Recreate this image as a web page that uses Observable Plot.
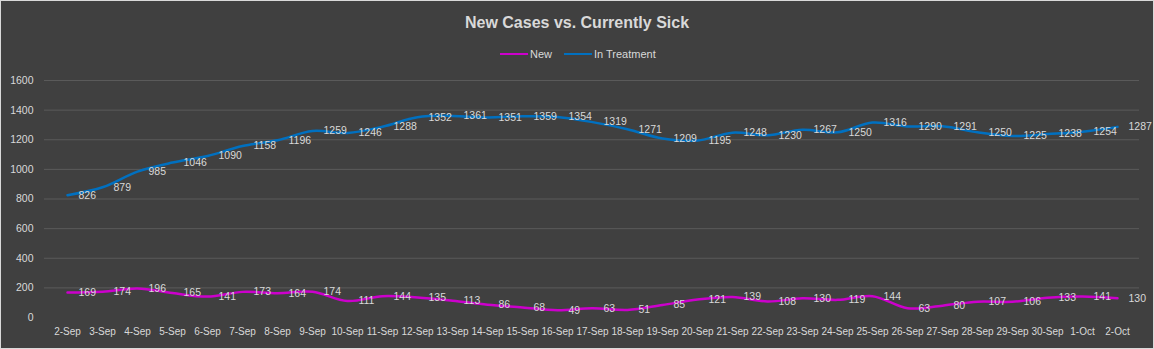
<!DOCTYPE html>
<html>
<head>
<meta charset="utf-8">
<script src="https://cdn.jsdelivr.net/npm/d3@7"></script>
<script src="https://cdn.jsdelivr.net/npm/@observablehq/plot@0.6"></script>
<style>
html, body { margin: 0; padding: 0; background: #404040; }
#wrap { position: relative; width: 1154px; height: 349px; background: #404040; overflow: hidden;
        font-family: "Liberation Sans", Arial, sans-serif; }
#frame { position: absolute; left: 0; top: 0; width: 1154px; height: 349px; box-sizing: border-box;
         border: 1px solid #d9d9d9; pointer-events: none; }
#title { position: absolute; left: 0; width: 1154px; top: 14px; text-align: center; font-weight: bold;
         font-size: 16px; line-height: 18px; color: #d9d9d9; }
#legend { position: absolute; left: 0; width: 1154px; top: 47px; height: 14px; font-size: 11px; color: #d9d9d9; }
.li { position: absolute; top: 0; line-height: 14px; white-space: nowrap; }
.sw { display: inline-block; width: 28px; height: 2.5px; vertical-align: middle; margin-right: 2px; position: relative; top: -1px; }
#chart { position: absolute; left: 0; top: 65px; }
</style>
</head>
<body>
<div id="wrap">
  <div id="title">New Cases vs. Currently Sick</div>
  <div id="legend"></div>
  <div id="chart"></div>
  <div id="frame"></div>
</div>
<script>
const dates = ["2-Sep","3-Sep","4-Sep","5-Sep","6-Sep","7-Sep","8-Sep","9-Sep","10-Sep","11-Sep","12-Sep","13-Sep","14-Sep","15-Sep","16-Sep","17-Sep","18-Sep","19-Sep","20-Sep","21-Sep","22-Sep","23-Sep","24-Sep","25-Sep","26-Sep","27-Sep","28-Sep","29-Sep","30-Sep","1-Oct","2-Oct"];
const newCases = [169,174,196,165,141,173,164,174,111,144,135,113,86,68,49,63,51,85,121,139,108,130,119,144,63,80,107,106,133,141,130];
const inTreatment = [826,879,985,1046,1090,1158,1196,1259,1246,1288,1352,1361,1351,1359,1354,1319,1271,1209,1195,1248,1230,1267,1250,1316,1290,1291,1250,1225,1238,1254,1287];
const seriesNames = ["New","In Treatment"];
const seriesColors = ["#cc00cc","#0070c0"];
const yTicks = [0,200,400,600,800,1000,1200,1400,1600];

const rows = [];
dates.forEach((d,i) => {
  rows.push({date: d, value: newCases[i], series: "New"});
  rows.push({date: d, value: inTreatment[i], series: "In Treatment"});
});

// legend
const legend = document.getElementById("legend");
const legendX = [500, 564];
seriesNames.forEach((s,i) => {
  const el = document.createElement("div");
  el.className = "li";
  el.style.left = legendX[i] + "px";
  el.innerHTML = `<span class="sw" style="background:${seriesColors[i]}"></span>${s}`;
  legend.appendChild(el);
});

const chart = Plot.plot({
  width: 1154,
  height: 284,
  marginLeft: 44,
  marginRight: 15,
  marginTop: 15,
  marginBottom: 32,
  style: { background: "transparent", color: "#d9d9d9", fontFamily: "'Liberation Sans', Arial, sans-serif", fontSize: "11px" },
  x: { type: "point", domain: dates, padding: 0.5, label: null },
  y: { domain: [0, 1600], label: null },
  color: { domain: seriesNames, range: seriesColors },
  marks: [
    Plot.gridY(yTicks.filter(t => t > 0), { stroke: "#5a5a5a", strokeOpacity: 1, strokeWidth: 1 }),
    Plot.axisY(yTicks, { tickSize: 0, tickPadding: 11, fill: "#d9d9d9", fontSize: 10.5, tickFormat: d => String(d) }),
    Plot.axisX({ tickSize: 0, tickPadding: 10, fill: "#d9d9d9", fontSize: 10 }),
    Plot.line(rows, { x: "date", y: "value", z: "series", stroke: "series", strokeWidth: 2.5, curve: "catmull-rom" }),
    Plot.text(rows, { x: "date", y: "value", text: d => String(d.value), dx: 11, textAnchor: "start", fill: "#d9d9d9", fontSize: 10.5 })
  ]
});
document.getElementById("chart").appendChild(chart);
</script>
</body>
</html>
